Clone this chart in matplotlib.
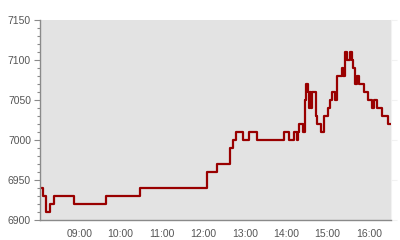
import pandas as pd
import matplotlib
matplotlib.use('Agg')
import matplotlib.pyplot as plt
import matplotlib.dates as mdates
from matplotlib.ticker import MultipleLocator

plt.rcParams['font.family'] = ['Liberation Sans', 'DejaVu Sans']

# step changes: time at which the price moves to the new level
times = ['08:03', '08:07', '08:11', '08:18', '08:23', '08:53', '09:38', '10:28',
         '12:05', '12:19', '12:39', '12:43', '12:47', '12:58', '13:06', '13:18',
         '13:57', '14:04', '14:11', '14:15', '14:17', '14:19', '14:25', '14:27',
         '14:29', '14:32', '14:33', '14:35', '14:36', '14:38', '14:43', '14:45',
         '14:50', '14:55', '15:01', '15:03', '15:06', '15:11', '15:14', '15:21',
         '15:23', '15:26', '15:28', '15:32', '15:35', '15:37', '15:40', '15:43',
         '15:46', '15:53', '15:59', '16:05', '16:07', '16:11', '16:19', '16:27',
         '16:32']
prices = [6940, 6930, 6910, 6920, 6930, 6920, 6930, 6940,
          6960, 6970, 6990, 7000, 7010, 7000, 7010, 7000,
          7010, 7000, 7010, 7000, 7010, 7020, 7010, 7050,
          7070, 7060, 7040, 7060, 7040, 7060, 7030, 7020,
          7010, 7030, 7040, 7050, 7060, 7050, 7080, 7090,
          7080, 7110, 7100, 7110, 7100, 7090, 7070, 7080,
          7070, 7060, 7050, 7040, 7050, 7040, 7030, 7020,
          7020]

t = pd.to_datetime(['2013-10-17 ' + s for s in times])

fig = plt.figure(figsize=(4, 2.4), dpi=100)
ax = fig.add_axes([40 / 400, 20 / 240, 351 / 400, 200 / 240])
ax.set_facecolor('#e3e3e3')

ax.plot(t, prices, drawstyle='steps-post', color='#990000', lw=1.6)

ax.set_xlim(t[0], pd.Timestamp('2013-10-17 16:32'))
ax.set_ylim(6900, 7150)

ax.xaxis.set_major_locator(mdates.HourLocator(byhour=range(9, 17)))
ax.xaxis.set_major_formatter(mdates.DateFormatter('%H:%M'))
ax.yaxis.set_major_locator(MultipleLocator(50))
ax.yaxis.set_minor_locator(MultipleLocator(10))

for side in ['top', 'right']:
    ax.spines[side].set_visible(False)
for side in ['left', 'bottom']:
    ax.spines[side].set_color('#8a8a8a')
    ax.spines[side].set_linewidth(1.0)

ax.tick_params(axis='x', length=0, pad=6.5, labelsize=7.5, labelcolor='#555555')
ax.tick_params(axis='y', which='major', length=4, width=0.8, color='#8a8a8a',
               pad=2.5, labelsize=7.5, labelcolor='#555555')
ax.tick_params(axis='y', which='minor', length=2.5, width=0.8, color='#8a8a8a')

# faint right-hand axis
sec = ax.secondary_yaxis('right')
sec.spines['right'].set_color('#f2f2f2')
sec.yaxis.set_major_locator(MultipleLocator(50))
sec.tick_params(length=4, color='#f2f2f2', labelright=False)

fig.savefig('out.png', dpi=100)
